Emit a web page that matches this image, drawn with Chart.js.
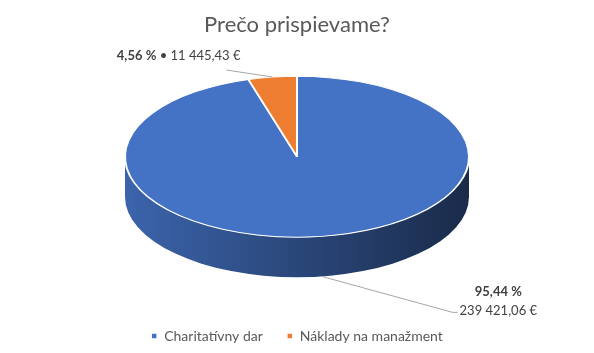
<!DOCTYPE html>
<html><head><meta charset="utf-8">
<script src="https://cdn.jsdelivr.net/npm/chart.js@4/dist/chart.umd.min.js"></script>
<style>html,body{margin:0;padding:0;background:#fff}canvas{display:block}</style>
</head><body>
<canvas id="c" width="594" height="353"></canvas>
<script>
// ---- data ----
const categories = ['Charitatívny dar', 'Náklady na manažment'];
const amounts = [239421.06, 11445.43];
const percentLabels = ['95,44 %', '4,56 %'];
const amountLabels = ['239 421,06 €', '11 445,43 €'];
const sliceColors = ['#4472C4', '#ED7D31'];
const titleText = 'Prečo prispievame?';

// ---- style ----
const FONT = 'Lato, "Open Sans", sans-serif';
const LABEL_SIZE = 13;
const PIE3D = { rx: 172, ry: 80.5, depth: 40 };
const LABEL_LAYOUT = [
  { dx: 131, dy: 36, tail: 5, mode: 'right' },
  { dx: -46, dy: -7, mode: 'above' }
];

function shade(hex, f) {
  const n = parseInt(hex.slice(1), 16);
  const r = Math.round(((n >> 16) & 255) * f), g = Math.round(((n >> 8) & 255) * f), b = Math.round((n & 255) * f);
  return `rgb(${r},${g},${b})`;
}

function geom(chart) {
  const ca = chart.chartArea;
  const cx = (ca.left + ca.right) / 2;
  const cyMid = (ca.top + ca.bottom) / 2;
  return { cx, cyTop: cyMid - PIE3D.depth / 2, rx: PIE3D.rx, ry: PIE3D.ry, depth: PIE3D.depth };
}

const pie3d = {
  id: 'pie3d',
  beforeDatasetsDraw(chart) {
    const ctx = chart.ctx;
    const g = geom(chart);
    const meta = chart.getDatasetMeta(0);
    // side walls (front half only)
    meta.data.forEach((el, i) => {
      const s = el.startAngle, e = el.endAngle;
      [[-2 * Math.PI, -Math.PI], [0, Math.PI], [2 * Math.PI, 3 * Math.PI]].forEach(([lo, hi]) => {
        const a1 = Math.max(s, lo), a2 = Math.min(e, hi);
        if (a2 <= a1) return;
        const grad = ctx.createLinearGradient(g.cx - g.rx, 0, g.cx + g.rx, 0);
        const col = sliceColors[i % sliceColors.length];
        grad.addColorStop(0, shade(col, 0.88));
        grad.addColorStop(0.5, shade(col, 0.62));
        grad.addColorStop(1, shade(col, 0.38));
        ctx.save();
        ctx.beginPath();
        ctx.ellipse(g.cx, g.cyTop, g.rx, g.ry, 0, a1, a2, false);
        ctx.ellipse(g.cx, g.cyTop + g.depth, g.rx, g.ry, 0, a2, a1, true);
        ctx.closePath();
        ctx.fillStyle = grad;
        ctx.fill();
        ctx.restore();
      });
    });
    // squash the circular pie into the top ellipse
    const el = meta.data[0];
    const r = el.outerRadius;
    ctx.save();
    ctx.translate(g.cx, g.cyTop);
    ctx.scale(g.rx / r, g.ry / r);
    ctx.translate(-el.x, -el.y);
  },
  afterDatasetsDraw(chart) {
    chart.ctx.restore();
  },
  afterDraw(chart) {
    const ctx = chart.ctx;
    const g = geom(chart);
    const meta = chart.getDatasetMeta(0);
    const fReg = LABEL_SIZE + 'px ' + FONT, fBold = 'bold ' + LABEL_SIZE + 'px ' + FONT;
    meta.data.forEach((el, i) => {
      const m = (el.startAngle + el.endAngle) / 2;
      const front = Math.sin(m) > 0;
      const ax = g.cx + g.rx * Math.cos(m);
      const ay = (front ? g.cyTop + g.depth : g.cyTop) + g.ry * Math.sin(m);
      const L = LABEL_LAYOUT[i];
      const ex = ax + L.dx, ey = ay + L.dy;
      ctx.save();
      ctx.strokeStyle = '#A6A6A6';
      ctx.lineWidth = 1;
      ctx.beginPath();
      ctx.moveTo(ax, ay);
      ctx.lineTo(ex, ey);
      if (L.tail) ctx.lineTo(ex + L.tail, ey);
      ctx.stroke();
      ctx.fillStyle = '#404040';
      ctx.textBaseline = 'middle';
      if (L.mode === 'right') {
        const tx = ex + L.tail + 2;
        ctx.font = fReg;
        ctx.textAlign = 'left';
        const w = ctx.measureText(amountLabels[i]).width;
        ctx.fillText(amountLabels[i], tx, ey - 2);
        ctx.font = fBold;
        ctx.textAlign = 'center';
        ctx.fillText(percentLabels[i], tx + w / 2, ey - 21);
      } else {
        ctx.font = fBold;
        const p = percentLabels[i];
        const wp = ctx.measureText(p).width;
        ctx.font = fReg;
        const rest = ' • ' + amountLabels[i];
        const wr = ctx.measureText(rest).width;
        const right = ex + 14;
        const y = ey - 14;
        ctx.textAlign = 'left';
        ctx.font = fBold;
        ctx.fillText(p, right - wp - wr, y);
        ctx.font = fReg;
        ctx.fillText(rest, right - wr, y);
      }
      ctx.restore();
    });
  }
};

new Chart(document.getElementById('c'), {
  type: 'pie',
  data: {
    labels: categories,
    datasets: [{
      data: amounts,
      backgroundColor: sliceColors,
      borderColor: '#FFFFFF',
      borderWidth: 1.5
    }]
  },
  options: {
    responsive: false,
    animation: false,
    devicePixelRatio: 1,
    layout: { padding: { top: 3, bottom: 0, left: 0, right: 0 } },
    plugins: {
      title: {
        display: true,
        text: titleText,
        color: '#595959',
        font: { family: FONT, size: 22, weight: 'normal' },
        padding: { top: 9, bottom: 10 }
      },
      legend: {
        position: 'bottom',
        labels: {
          color: '#595959',
          font: { family: FONT, size: 14 },
          boxWidth: 6,
          boxHeight: 6,
          padding: 24
        }
      },
      tooltip: { enabled: false }
    }
  },
  plugins: [pie3d]
});
</script>
</body></html>
